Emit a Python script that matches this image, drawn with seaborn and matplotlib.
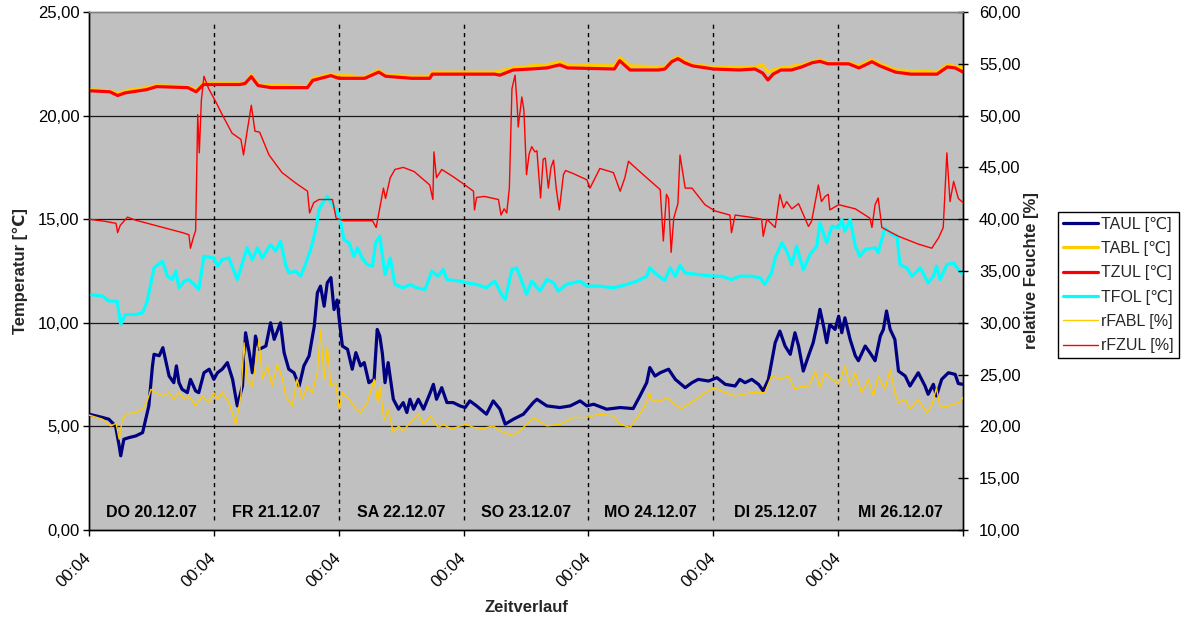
import matplotlib
matplotlib.use("Agg")
import matplotlib.pyplot as plt
from matplotlib.lines import Line2D
from matplotlib.ticker import FuncFormatter
import seaborn as sns

# ---------------------------------------------------------------------------
# Data: hours since Thu 20.12.07 00:04, temperatures in degC, humidity in %
# ---------------------------------------------------------------------------
day_labels = ["DO 20.12.07", "FR 21.12.07", "SA 22.12.07", "SO 23.12.07",
              "MO 24.12.07", "DI 25.12.07", "MI 26.12.07"]
day_ticks = [0, 24, 48, 72, 96, 120, 144, 168]
tick_labels = ["00:04"] * 7 + [""]

taul_t = [0, 1.5, 2.6, 3.8, 5.1, 5.8, 6.1, 6.7, 7.7, 9.0, 10.3, 10.9, 11.5, 12.2,
          12.5, 13.5, 14.2, 15.4, 16.3, 16.8, 17.3, 17.9, 18.9, 19.5, 20.5, 21.1,
          22.1, 23.1, 24.0, 24.7, 25.6, 26.6, 27.6, 28.5, 29.5, 30.1, 30.8, 31.4,
          32.0, 32.7, 34.0, 34.9, 35.6, 36.8, 37.5, 38.4, 39.4, 40.4, 41.3, 42.3,
          43.3, 43.9, 44.5, 45.2, 45.8, 46.5, 47.1, 47.7, 48.1, 48.7, 49.7, 50.6,
          51.3, 52.2, 52.9, 53.8, 54.8, 55.4, 55.9, 56.4, 56.9, 57.5, 58.5, 59.5,
          60.4, 61.1, 61.7, 62.4, 63.3, 64.3, 65.6, 66.2, 66.8, 67.8, 68.8, 70.0,
          71.3, 72.3, 73.2, 74.5, 76.4, 77.7, 79.0, 80.0, 81.6, 83.5, 85.4, 86.1,
          88.0, 90.5, 92.5, 94.4, 95.7, 97.0, 99.5, 102.1, 104.6, 105.9, 107.2,
          107.8, 108.8, 109.8, 111.4, 112.7, 114.6, 115.9, 117.1, 119.1, 120.7,
          122.3, 124.2, 125.1, 126.1, 127.4, 128.7, 129.6, 130.6, 131.9, 132.8,
          133.8, 134.8, 135.7, 136.4, 137.3, 138.3, 139.2, 139.9, 140.5, 141.2,
          141.8, 142.4, 143.4, 144.1, 144.7, 145.3, 146.3, 147.3, 147.9, 149.2,
          150.1, 151.1, 152.1, 152.7, 153.3, 154.0, 154.9, 155.6, 156.9, 157.8,
          159.4, 160.7, 161.3, 162.3, 162.9, 163.9, 165.2, 166.5, 167.1, 168]
taul = [5.59, 5.5, 5.43, 5.35, 5.02, 4.06, 3.58, 4.38, 4.46, 4.54, 4.70, 5.35, 5.99,
        7.92, 8.48, 8.41, 8.80, 7.43, 7.11, 7.92, 7.11, 6.79, 6.63, 7.27, 6.71, 6.63,
        7.59, 7.76, 7.27, 7.59, 7.76, 8.08, 7.27, 5.99, 6.95, 9.52, 8.56, 7.59,
        9.36, 8.72, 8.88, 10.0, 9.2, 10.0, 8.56, 7.76, 7.59, 6.95, 7.92, 8.40,
        9.84, 11.45, 11.77, 10.8, 11.93, 12.18, 10.64, 11.1, 10.16, 8.88, 8.72, 7.76,
        8.56, 7.92, 8.08, 7.11, 7.27, 9.68, 9.36, 8.5, 7.11, 8.08, 6.31, 5.83,
        6.15, 5.67, 6.31, 5.83, 6.31, 5.83, 6.63, 7.03, 6.31, 6.87, 6.15, 6.15,
        5.99, 5.91, 6.23, 5.99, 5.59, 6.23, 5.83, 5.11, 5.35, 5.59, 6.15, 6.31,
        5.99, 5.91, 5.99, 6.23, 5.99, 6.07, 5.83, 5.91, 5.86, 6.47, 7.11,
        7.84, 7.43, 7.59, 7.76, 7.27, 6.87, 7.11, 7.27, 7.19, 7.35,
        7.03, 6.95, 7.27, 7.11, 7.27, 7.03, 6.71, 7.27, 9.04, 9.6,
        8.88, 8.48, 9.52, 8.88, 7.67, 8.41, 9.04, 9.84, 10.65, 9.84,
        9.04, 9.92, 9.68, 10.32, 9.52, 10.24, 9.2, 8.41, 8.17, 8.88,
        8.56, 8.17, 9.36, 9.68, 10.57, 9.68, 9.2, 7.67, 7.43, 6.95,
        7.59, 6.95, 6.55, 7.03, 6.47, 7.27, 7.59, 7.51, 7.07, 7.03]

tabl_t = [0, 4, 5.5, 7, 11, 13, 19, 20.6, 22, 30, 31.2, 32.5, 42, 43, 46.5, 53,
          55.7, 57, 62, 65.5, 66, 78, 81.5, 85, 88, 90.5, 92, 101, 102, 104, 109.5,
          110.5, 113, 116, 120, 128, 129.5, 130.5, 131.5, 133, 137, 140.5, 142, 146,
          148, 150.5, 152, 155, 163, 165, 168]
tabl = [21.25, 21.2, 21.05, 21.2, 21.35, 21.45, 21.4, 21.25, 21.55, 21.55, 21.95,
        21.5, 21.4, 21.8, 22.0, 21.85, 22.2, 21.95, 21.9, 21.9, 22.1, 22.1, 22.3,
        22.4, 22.45, 22.6, 22.45, 22.4, 22.8, 22.4, 22.35, 22.3, 22.85, 22.45,
        22.35, 22.35, 22.45, 22.1, 22.2, 22.3, 22.45, 22.7, 22.55, 22.55, 22.4,
        22.7, 22.5, 22.2, 22.1, 22.45, 22.3]

tzul_t = [0, 4, 5.5, 7, 11, 13, 19, 20.6, 22, 29, 30, 31.2, 32.5, 35, 42, 43, 46.5,
          48, 53, 55.7, 57, 62, 65.5, 66, 78, 79, 81.5, 85, 88, 90.5, 92, 101, 102,
          104, 109.5, 110.7, 112, 113.2, 114.5, 116, 120, 125, 128, 129.5, 130.5,
          131.5, 133, 135, 137, 139, 140.5, 142, 146, 148, 150.5, 152, 155, 158, 163,
          165, 166.5, 168]
tzul = [21.2, 21.15, 20.97, 21.1, 21.25, 21.4, 21.35, 21.15, 21.5, 21.5, 21.55,
        21.88, 21.45, 21.35, 21.35, 21.7, 21.93, 21.8, 21.8, 22.1, 21.9, 21.8, 21.8,
        22.0, 22.0, 21.95, 22.2, 22.25, 22.3, 22.45, 22.3, 22.25, 22.65, 22.2, 22.2,
        22.25, 22.6, 22.75, 22.55, 22.4, 22.25, 22.2, 22.25, 22.05, 21.72, 22.0,
        22.2, 22.2, 22.35, 22.55, 22.62, 22.5, 22.5, 22.3, 22.6, 22.4, 22.1, 22.0,
        22.0, 22.35, 22.3, 22.1]

tfol_t = [0, 2.6, 3.8, 5.4, 6.1, 7.0, 9.0, 10.3, 11.2, 12.5, 14.1, 15.1, 16.0, 16.7,
          17.3, 18.3, 19.2, 20.2, 21.1, 22.1, 24.0, 24.7, 25.6, 26.9, 28.5, 29.5,
          30.4, 31.4, 32.4, 33.3, 34.9, 35.9, 36.8, 37.8, 38.4, 39.7, 40.7, 41.7,
          42.6, 43.6, 44.2, 44.9, 45.8, 46.8, 47.7, 48.4, 49.0, 50.0, 50.9, 51.6,
          52.5, 53.5, 54.5, 55.1, 55.9, 56.9, 57.9, 58.8, 60.4, 61.7, 63.0, 64.6,
          65.9, 67.1, 68.1, 68.8, 71.3, 72.6, 74.5, 76.4, 78.0, 79.3, 80.0, 81.3,
          82.2, 83.2, 84.1, 85.1, 86.7, 88.0, 89.3, 90.2, 91.8, 94.4, 95.7, 98.2,
          100.8, 103.4, 105.3, 107.2, 107.8, 109.1, 110.7, 111.7, 112.7, 113.6,
          114.6, 117.1, 120.0, 121.6, 123.5, 125.1, 127.4, 129.0, 129.9, 131.2,
          131.9, 133.2, 134.1, 135.1, 136.0, 137.3, 138.6, 139.9, 140.5, 141.8,
          142.8, 144.1, 144.7, 145.3, 146.3, 147.3, 148.2, 149.2, 151.1, 151.7,
          153.0, 154.3, 155.3, 155.9, 157.2, 158.2, 159.8, 161.3, 162.3, 162.9,
          163.6, 164.9, 166.2, 167.1, 168]
tfol = [11.37, 11.29, 11.05, 11.05, 9.92, 10.4, 10.4, 10.48, 11.05, 12.65, 12.97,
        12.25, 12.09, 12.49, 11.69, 12.01, 12.09, 11.85, 11.61, 13.21, 13.13, 12.73,
        13.05, 13.13, 12.09, 12.89, 13.62, 13.05, 13.62, 13.13, 13.78, 13.46, 13.94,
        12.81, 12.41, 12.49, 12.25, 12.89, 13.54, 14.5, 15.46, 15.78, 16.1, 15.7,
        15.38, 14.82, 14.02, 13.86, 13.21, 13.62, 13.13, 12.81, 12.73, 13.86, 14.18,
        12.33, 13.13, 11.85, 11.69, 11.85, 11.69, 11.61, 12.49, 12.25, 12.57, 12.09,
        12.01, 11.93, 11.85, 11.69, 12.01, 11.37, 11.13, 12.57, 12.65, 12.01, 11.37,
        12.01, 11.53, 12.09, 11.93, 11.53, 11.85, 12.01, 11.77, 11.77, 11.69, 11.85,
        12.01, 12.25, 12.65, 12.33, 12.05, 12.65, 12.25, 12.77, 12.41, 12.33, 12.25,
        12.25, 12.09, 12.25, 12.25, 12.17, 11.85, 12.41, 13.13, 13.86, 13.46, 12.81,
        13.70, 12.57, 13.3, 13.7, 14.82, 13.86, 14.66, 14.58, 14.98, 14.42, 14.98,
        13.7, 13.21, 13.54, 13.62, 13.38, 14.58, 14.26, 14.18, 12.81, 12.65, 12.25,
        12.65, 11.93, 12.25, 12.73, 12.09, 12.81, 12.89, 12.57, 12.33]

rfabl_t = [0, 2.6, 4.2, 5.2, 5.8, 6.4, 7.4, 9.0, 10.3, 11.2, 11.9, 12.8, 14.1, 15.4,
           16.3, 17.3, 18.3, 19.2, 20.5, 21.8, 23.1, 24.0, 24.7, 25.6, 26.9, 28.2,
           29.2, 29.8, 30.4, 31.4, 32.7, 33.3, 34.3, 35.2, 36.2, 37.2, 37.8, 39.1,
           40.0, 41.0, 42.0, 42.9, 43.9, 44.5, 45.2, 45.8, 46.5, 47.4, 48.1, 48.7,
           50.0, 51.3, 52.2, 53.5, 54.8, 55.5, 55.9, 56.7, 57.5, 58.5, 59.5, 60.4,
           61.7, 63.3, 64.3, 65.6, 67.1, 68.1, 69.7, 71.3, 72.6, 73.9, 75.8, 77.7,
           79.0, 81.6, 83.5, 85.4, 88.0, 90.5, 93.1, 95.7, 98.2, 100.8, 102.1, 104.0,
           105.6, 107.2, 107.7, 108.2, 109.8, 111.1, 113.0, 113.9, 117.1, 120.0,
           122.3, 124.2, 127.4, 129.9, 131.2, 132.8, 134.4, 135.7, 137.0, 138.3,
           139.6, 140.5, 141.5, 142.8, 144.1, 145.3, 146.3, 147.3, 148.5, 149.8,
           150.8, 151.7, 153.0, 154.0, 154.9, 155.6, 156.9, 157.8, 159.4, 161.0,
           162.0, 162.9, 163.6, 165.2, 167.1, 168]
rfabl = [21.1, 20.69, 20.05, 20.3, 18.77, 20.69, 21.2, 21.34, 21.66, 22.46, 23.58,
         23.26, 22.94, 23.26, 22.62, 23.26, 22.62, 22.94, 21.98, 22.94, 22.3, 23.26,
         22.62, 23.26, 22.3, 20.2, 22.94, 28.08, 24.55, 23.9, 28.4, 24.55, 25.83,
         23.9, 25.99, 24.55, 22.94, 21.98, 24.55, 22.62, 23.9, 23.26, 25.19, 29.36,
         24.55, 27.76, 23.9, 24.22, 21.66, 23.26, 22.62, 21.66, 21.34, 22.3, 24.55,
         22.3, 23.9, 20.6, 21.66, 19.41, 20.05, 19.57, 20.37, 21.2, 20.2, 21.0, 19.9,
         20.2, 19.73, 20.05, 20.2, 19.9, 19.8, 20.05, 19.57, 19.09, 19.9, 20.86,
         20.05, 20.2, 20.86, 20.86, 21.2, 21.0, 20.2, 19.9, 21.0, 22.3, 23.26, 22.46,
         22.46, 22.78, 21.98, 21.72, 22.78, 23.74, 23.26, 22.94, 23.26, 23.26, 24.87,
         24.55, 24.87, 23.58, 23.9, 23.74, 25.35, 23.74, 25.19, 24.55, 24.07, 25.83,
         23.9, 25.19, 23.26, 24.55, 22.94, 24.87, 23.58, 25.51, 23.26, 22.3, 22.62,
         21.66, 22.62, 21.34, 21.98, 23.74, 21.82, 21.98, 22.3, 22.78]

rfzul_t = [0, 3, 5.2, 5.5, 6.0, 7.4, 9, 12, 15, 18, 19.2, 19.5, 20.1, 20.5, 20.9,
           21.2, 21.6, 22.1, 23, 24.3, 25.6, 27.5, 29.2, 29.7, 30.4, 31.2, 31.9, 32.8,
           34.6, 37.1, 39.7, 42.0, 42.4, 43.2, 44.2, 46.8, 47.5, 49, 54.5, 55.2, 55.9,
           56.6, 57.0, 57.9, 58.8, 60.4, 62.5, 65.5, 66.1, 66.3, 66.8, 67.8, 70, 72,
           73.9, 74.1, 74.5, 76, 78.7, 79.2, 79.8, 80.3, 80.8, 81.3, 81.9, 82.3, 82.5,
           83.2, 83.6, 84.1, 84.6, 85.1, 85.7, 86.1, 86.8, 87.3, 87.7, 88.3, 88.8,
           89.3, 89.8, 90.4, 91.2, 91.6, 93.1, 95.7, 96.3, 98.2, 100.8, 102.1, 103.0,
           103.7, 104.3, 107.2, 109.8, 110.4, 111.0, 111.4, 111.9, 112.4, 113.2,
           113.6, 114.6, 115.9, 118.4, 120.3, 123.2, 123.5, 124.2, 127, 129.3, 129.6,
           130.3, 131.9, 132.8, 133.5, 134.1, 135.1, 136.4, 138.3, 138.9, 140.2,
           140.8, 141.5, 142.1, 142.4, 144.1, 147.3, 150.1, 150.5, 151.1, 151.7,
           152.4, 155.6, 159.4, 162.0, 163.3, 164.2, 164.9, 165.5, 166.2, 167.1, 168]
rfzul = [40.0, 39.8, 39.6, 38.7, 39.4, 40.2, 39.9, 39.5, 39.1, 38.7, 38.5, 37.2,
         38.3, 38.9, 50.1, 46.4, 51.5, 53.8, 52.6, 51.4, 50.1, 48.3, 47.7, 46.2, 48.5,
         51.0, 48.5, 48.4, 46.2, 44.5, 43.5, 42.7, 40.6, 41.6, 41.9, 41.9, 40.1,
         39.85, 39.85, 39.2, 41.1, 43.0, 42.0, 44.0, 44.8, 45.0, 44.6, 43.3, 41.9,
         46.5, 44.0, 44.8, 44.1, 43.4, 42.7, 40.9, 42.1, 42.2, 41.9, 40.4, 41.0, 40.6,
         43.0, 52.6, 53.9, 51.0, 48.9, 51.8, 50.5, 44.3, 46.3, 47.0, 46.5, 46.6,
         42.05, 45.8, 45.9, 43.0, 45.0, 45.7, 43.0, 40.9, 44.3, 44.7, 44.4, 43.8,
         43.0, 44.9, 44.5, 42.7, 44.0, 45.6, 45.3, 44.0, 42.85, 37.9, 42.4, 42.0,
         36.8, 40.1, 41.5, 46.2, 43.0, 43.0, 41.4, 40.8, 40.4, 38.7, 40.4, 40.2,
         40.0, 38.35, 40.0, 39.2, 42.4, 41.1, 41.7, 41.0, 41.5, 39.3, 39.8, 43.3,
         41.7, 42.2, 42.4, 40.9, 41.4, 41.0, 40.1, 39.2, 41.4, 42.05, 39.2, 38.35,
         37.6, 37.2, 38.2, 39.2, 46.4, 41.7, 43.65, 42.0, 41.6]

# ---------------------------------------------------------------------------
# Styling
# ---------------------------------------------------------------------------
sns.set_style("ticks")
plt.rcParams["font.family"] = ["Liberation Sans", "DejaVu Sans"]
plt.rcParams["axes.linewidth"] = 1.0

NAVY, GOLD, RED, CYAN = "#000080", "#FFCC00", "#FF0000", "#00FFFF"
THICK, THIN = 2.3, 1.0

fig = plt.figure(figsize=(11.86, 6.2), dpi=100)
W, H = 1186, 620
ax = fig.add_axes([89 / W, 1 - 530 / H, (963 - 89) / W, (530 - 12) / H])
ax.set_facecolor("#C0C0C0")
ax2 = ax.twinx()

# horizontal grid and day separators
for v in [5, 10, 15, 20]:
    ax.axhline(v, color="#1a1a1a", lw=0.9, zorder=1)
for d in day_ticks[1:-1]:
    ax.plot([d, d], [0.5, 24.5], color="black", lw=1.0, ls=(0, (3, 3)), zorder=1.2)

# temperature series (left axis)
for t, v, c in [(taul_t, taul, NAVY), (tabl_t, tabl, GOLD),
                (tzul_t, tzul, RED), (tfol_t, tfol, CYAN)]:
    sns.lineplot(x=t, y=v, ax=ax, color=c, linewidth=THICK, estimator=None,
                 sort=False, legend=False, zorder=3)

# relative humidity series (right axis)
for t, v, c in [(rfabl_t, rfabl, GOLD), (rfzul_t, rfzul, RED)]:
    sns.lineplot(x=t, y=v, ax=ax2, color=c, linewidth=THIN, estimator=None,
                 sort=False, legend=False, zorder=3)

# axes limits and ticks
comma = FuncFormatter(lambda v, p: f"{v:.2f}".replace(".", ","))
ax.set_xlim(0, 168)
ax.set_ylim(0, 25)
ax.set_yticks([0, 5, 10, 15, 20, 25])
ax.yaxis.set_major_formatter(comma)
ax2.set_ylim(10, 60)
ax2.set_yticks(list(range(10, 61, 5)))
ax2.yaxis.set_major_formatter(comma)

ax.set_xticks(day_ticks)
ax.set_xticklabels(tick_labels, rotation=45, ha="right", va="center",
                   rotation_mode="anchor")
ax.tick_params(axis="x", direction="out", length=4, width=1, pad=14,
               labelsize=12, colors="black")
ax.tick_params(axis="y", direction="out", length=4, width=1, pad=3,
               labelsize=12, colors="black")
ax2.tick_params(axis="y", direction="inout", length=7, width=1, pad=8,
                labelsize=12, colors="black")

for a in (ax, ax2):
    a.spines["top"].set_color("#808080")
    a.spines["left"].set_color("black")
    a.spines["right"].set_color("black")
    a.spines["bottom"].set_color("black")
    a.set_xlabel("")
    a.set_ylabel("")

ax.set_ylabel("Temperatur [℃]", fontsize=12, fontweight="bold")
ax.yaxis.set_label_coords(-0.0695, 0.5)
ax2.set_ylabel("relative Feuchte [%]", fontsize=12, fontweight="bold")
ax2.yaxis.set_label_coords(1.070, 0.5)
ax.set_xlabel("Zeitverlauf", fontsize=12, fontweight="bold")
ax.xaxis.set_label_coords(0.5, -0.136)

# day captions inside the plot
for i, lab in enumerate(day_labels):
    ax.text(12 + 24 * i, 0.85, lab, ha="center", va="center",
            fontsize=11.5, fontweight="bold", color="black", zorder=4)

# legend
handles = [Line2D([], [], color=NAVY, lw=THICK), Line2D([], [], color=GOLD, lw=THICK),
           Line2D([], [], color=RED, lw=THICK), Line2D([], [], color=CYAN, lw=THICK),
           Line2D([], [], color=GOLD, lw=THIN), Line2D([], [], color=RED, lw=THIN)]
names = ["TAUL [℃]", "TABL [℃]", "TZUL [℃]", "TFOL [℃]", "rFABL [%]", "rFZUL [%]"]
leg = fig.legend(handles, names, loc="upper left",
                 bbox_to_anchor=(1058 / W, 1 - 212 / H), fontsize=11.5,
                 frameon=True, fancybox=False, shadow=False, handlelength=2.2,
                 handletextpad=0.2, labelspacing=0.58, borderpad=0.3,
                 borderaxespad=0)
leg.get_frame().set_edgecolor("black")
leg.get_frame().set_linewidth(1.0)
leg.get_frame().set_facecolor("white")
leg.get_frame().set_alpha(1)

fig.savefig("out.png", dpi=100, facecolor="white")
